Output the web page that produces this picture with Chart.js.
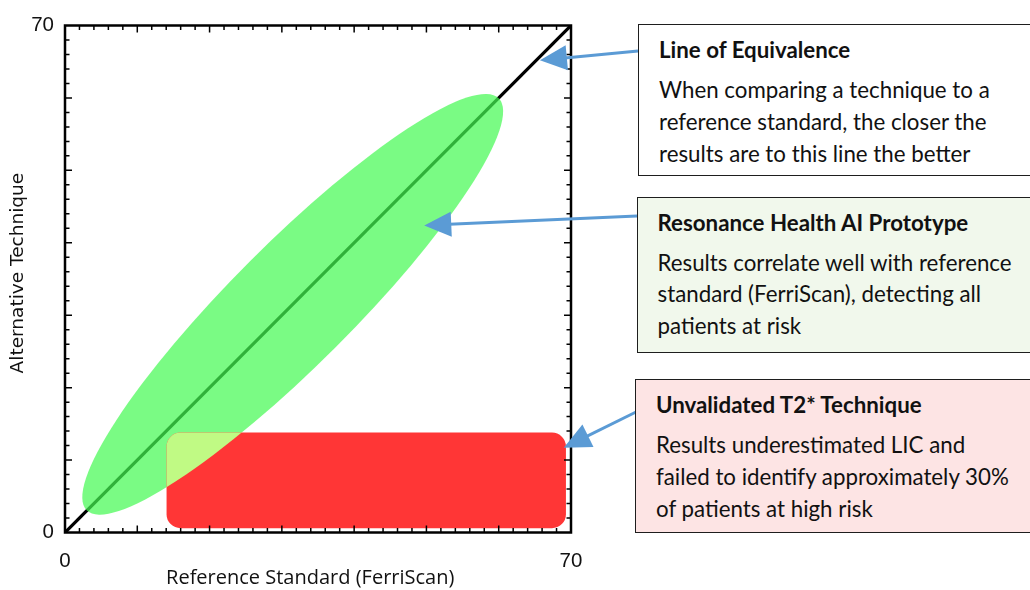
<!DOCTYPE html>
<html>
<head>
<meta charset="utf-8">
<script src="https://cdn.jsdelivr.net/npm/chart.js@4/dist/chart.umd.min.js"></script>
<style>
  html, body { margin:0; padding:0; background:#fff; }
  body { width:1030px; height:590px; overflow:hidden; position:relative; }
  #wrap { position:absolute; left:0; top:0; width:1030px; height:590px; }
  .box { position:absolute; box-sizing:border-box; border:1.5px solid #1e1e1e; border-right:none;
         font-family:"Lato", "Open Sans", sans-serif; color:#111; padding:9px 0 0 20px; }
  .box .t { font-weight:bold; font-size:22.3px; line-height:31px; margin-bottom:9px; }
  .box .b { font-size:22.3px; line-height:31.8px; }
</style>
</head>
<body>
<div id="wrap"><canvas id="c"></canvas></div>

<div class="box" style="left:638px;top:24px;width:400px;height:152px;background:#ffffff;">
  <div class="t">Line of Equivalence</div>
  <div class="b">When comparing a technique to a<br>reference standard, the closer the<br>results are to this line the better</div>
</div>
<div class="box" style="left:636.5px;top:196.5px;width:400px;height:156px;background:#f1f8ec;">
  <div class="t">Resonance Health AI Prototype</div>
  <div class="b">Results correlate well with reference<br>standard (FerriScan), detecting all<br>patients at risk</div>
</div>
<div class="box" style="left:635px;top:379px;width:400px;height:153.5px;background:#fde4e4;">
  <div class="t">Unvalidated T2* Technique</div>
  <div class="b">Results underestimated LIC and<br>failed to identify approximately 30%<br>of patients at high risk</div>
</div>

<script>
// ---------------- data ----------------
const axisMin = 0;
const axisMax = 70;
const minorStep = 2;
const majorStep = 10;
const labeledTicks = [0, 70];

const xTitle = "Reference Standard (FerriScan)";
const yTitle = "Alternative Technique";

// line of equivalence (x, y)
const equivX = [0, 70];
const equivY = [0, 70];

// AI prototype region (ellipse along the equivalence line), data units
const ellipseCenter = [31.5, 31.5];
const ellipseSemiMajor = 40.3;
const ellipseSemiMinor = 8.4;
const ellipseAngleDeg = 45;

// T2* region (rounded rectangle), data units
const rectX = [14.05, 69.3];
const rectY = [0.6, 13.8];

// arrow targets, data units
const arrowTargets = [[65.7, 65.2], [49.7, 42.4], [69.0, 11.7]];

// ---------------- layout / style (pixels) ----------------
const arrowTails = [[638, 51], [637, 216], [636, 412]];

const regionsPlugin = {
  id: 'regions',
  afterDatasetsDraw(chart) {
    const ctx = chart.ctx;
    const xs = chart.scales.x, ys = chart.scales.y;
    const unit = xs.getPixelForValue(1) - xs.getPixelForValue(0);
    const cx = xs.getPixelForValue(ellipseCenter[0]);
    const cy = ys.getPixelForValue(ellipseCenter[1]);
    const ang = -ellipseAngleDeg * Math.PI / 180;
    const ellPath = () => {
      ctx.beginPath();
      ctx.ellipse(cx, cy, ellipseSemiMajor * unit, ellipseSemiMinor * unit, ang, 0, Math.PI * 2);
    };
    const rx0 = xs.getPixelForValue(rectX[0]), rx1 = xs.getPixelForValue(rectX[1]);
    const ry0 = ys.getPixelForValue(rectY[1]), ry1 = ys.getPixelForValue(rectY[0]);
    const rectPath = () => {
      ctx.beginPath();
      ctx.roundRect(rx0, ry0, rx1 - rx0, ry1 - ry0, 14);
    };
    ctx.save();
    ellPath();
    ctx.fillStyle = 'rgba(68,250,82,0.71)';
    ctx.fill();
    rectPath();
    ctx.fillStyle = '#ff3636';
    ctx.fill();
    ctx.save();
    ellPath();
    ctx.clip();
    rectPath();
    ctx.fillStyle = '#c0fa84';
    ctx.fill();
    ctx.restore();

    // frame with inward ticks on all sides
    const l = chart.chartArea.left, r = chart.chartArea.right, t = chart.chartArea.top, b = chart.chartArea.bottom;
    ctx.strokeStyle = '#000';
    ctx.lineWidth = 1.5;
    for (let v = axisMin + minorStep; v < axisMax; v += minorStep) {
      const len = (v % majorStep === 0) ? 7 : 4.5;
      const px = xs.getPixelForValue(v);
      const py = ys.getPixelForValue(v);
      ctx.beginPath();
      ctx.moveTo(px, b); ctx.lineTo(px, b - len);
      ctx.moveTo(px, t); ctx.lineTo(px, t + len);
      ctx.moveTo(l, py); ctx.lineTo(l + len, py);
      ctx.moveTo(r, py); ctx.lineTo(r - len, py);
      ctx.stroke();
    }
    ctx.lineWidth = 2.5;
    ctx.strokeRect(l, t, r - l, b - t);

    // arrows
    ctx.strokeStyle = '#5b9bd5';
    ctx.fillStyle = '#5b9bd5';
    arrowTargets.forEach((tg, i) => {
      const tx = xs.getPixelForValue(tg[0]), ty = ys.getPixelForValue(tg[1]);
      const [sx, sy] = arrowTails[i];
      const dx = tx - sx, dy = ty - sy, L = Math.hypot(dx, dy);
      const ux = dx / L, uy = dy / L;
      const hl = 27, hw = 12.5;
      const bx = tx - ux * hl, by = ty - uy * hl;
      ctx.lineWidth = 3;
      ctx.beginPath();
      ctx.moveTo(sx, sy); ctx.lineTo(bx + ux * 2, by + uy * 2);
      ctx.stroke();
      ctx.beginPath();
      ctx.moveTo(tx, ty);
      ctx.lineTo(bx - uy * hw, by + ux * hw);
      ctx.lineTo(bx + uy * hw, by - ux * hw);
      ctx.closePath();
      ctx.fill();
    });
    ctx.restore();
  }
};

const tickCb = (v) => labeledTicks.includes(v) ? String(v) : '';

new Chart(document.getElementById('c'), {
  type: 'scatter',
  data: {
    datasets: [{
      label: 'Line of Equivalence',
      data: equivX.map((x, i) => ({ x: x, y: equivY[i] })),
      showLine: true,
      borderColor: '#000',
      borderWidth: 3.2,
      pointRadius: 0,
      fill: false
    }]
  },
  options: {
    responsive: true,
    maintainAspectRatio: false,
    animation: false,
    devicePixelRatio: 1,
    layout: { padding: { left: 0, top: 25.5, right: 459, bottom: 0 } },
    plugins: { legend: { display: false }, tooltip: { enabled: false } },
    scales: {
      x: {
        type: 'linear', min: axisMin, max: axisMax,
        grid: { display: false, drawTicks: false, tickLength: 0 }, border: { display: false },
        ticks: { stepSize: minorStep, autoSkip: false, maxRotation: 0, callback: tickCb,
                 font: { family: 'Liberation Sans', size: 20.5 }, color: '#111', padding: 17 },
        title: { display: true, text: xTitle + '\u00a0\u00a0\u00a0', font: { family: 'Open Sans', size: 20 }, color: '#111', padding: 0 },
        afterFit: (s) => { s.height = 57.5; }
      },
      y: {
        type: 'linear', min: axisMin, max: axisMax,
        grid: { display: false, drawTicks: false, tickLength: 0 }, border: { display: false },
        ticks: { stepSize: minorStep, autoSkip: false, callback: tickCb,
                 font: { family: 'Liberation Sans', size: 20.5 }, color: '#111', padding: 11 },
        title: { display: true, text: '\u00a0\u00a0' + yTitle, font: { family: 'DejaVu Sans', size: 18.5 }, color: '#111', padding: { top: 7, bottom: 0 } },
        afterFit: (s) => { s.width = 65; }
      }
    }
  },
  plugins: [regionsPlugin]
});
</script>
</body>
</html>
